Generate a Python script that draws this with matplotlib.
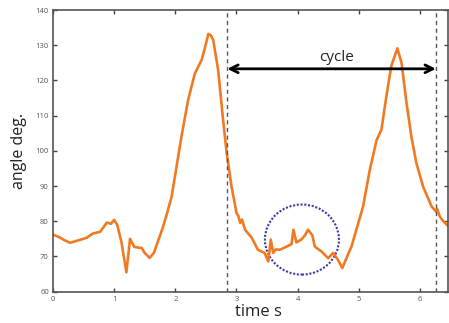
import matplotlib
matplotlib.use('Agg')
import matplotlib.pyplot as plt
from matplotlib.patches import Ellipse

# values
temps = [0, 0.1, 0.2, 0.28, 0.4, 0.55, 0.65, 0.77, 0.88, 0.95, 1.0, 1.05, 1.12,
         1.2, 1.26, 1.33, 1.45, 1.5, 1.58, 1.65, 1.72, 1.8, 1.86, 1.94, 2.02,
         2.1, 2.21, 2.32, 2.43, 2.48, 2.54, 2.58, 2.62, 2.70, 2.78, 2.84, 2.92,
         3.0, 3.03, 3.06, 3.09, 3.14, 3.25, 3.35, 3.46, 3.52, 3.56, 3.60, 3.64,
         3.71, 3.82, 3.90, 3.93, 3.98, 4.06, 4.12, 4.17, 4.24, 4.28, 4.39, 4.5,
         4.58, 4.66, 4.73, 4.8, 4.88, 4.96, 5.07, 5.18, 5.29, 5.37, 5.45, 5.53,
         5.63, 5.70, 5.78, 5.86, 5.94, 6.05, 6.19, 6.26, 6.28, 6.32, 6.38, 6.47]
angle = [76.2, 75.5, 74.5, 73.9, 74.5, 75.3, 76.5, 77, 79.6, 79.3, 80.4, 79, 74,
         65.5, 75, 72.7, 72.4, 71, 69.6, 71, 74.5, 78.4, 82, 87, 95.5,
         104, 114.5, 122, 125.8, 129, 133.2, 132.8, 131.5, 123, 109, 99.4, 89.8,
         82.4, 81.5, 79.5, 80.5, 77.6, 75.3, 71.9, 71, 68.6, 74.8, 71, 72,
         71.9, 72.8, 73.5, 77.6, 74, 74.8, 76, 77.6, 76, 72.8, 71.4, 69.5,
         71, 69, 66.7, 69.6, 72.8, 77.6, 84.2, 94.6, 103, 106, 115.4, 124,
         129.1, 124.9, 113.6, 104, 96.6, 89.9, 84.2, 82.8, 83.5, 81.5, 80, 78.5]

cycle_debut = 2.85
cycle_fin = 6.26
fleche_y = 123.3
cercle_centre = (4.07, 74.8)
cercle_larg = 1.21
cercle_haut = 19.9

plt.rcParams['font.family'] = ['Open Sans', 'DejaVu Sans']

fig = plt.figure(figsize=(4.49, 3.23), dpi=100)
ax = fig.add_axes([0.118, 0.097, 0.880, 0.872])

ax.plot(temps, angle, color='#F07A22', lw=1.9)

ax.axvline(cycle_debut, color='#555555', ls=(0, (3, 2.5)), lw=1)
ax.axvline(cycle_fin, color='#555555', ls=(0, (3, 2.5)), lw=1)

ax.annotate('', xy=(cycle_debut, fleche_y), xytext=(cycle_fin, fleche_y),
            arrowprops=dict(arrowstyle='<->', color='black', lw=2,
                            mutation_scale=14, shrinkA=0, shrinkB=0))
ax.text((cycle_debut + cycle_fin) / 2 + 0.08, fleche_y + 1.2, 'cycle',
        ha='center', va='bottom', fontsize=11, color='#222222')

ell = Ellipse(cercle_centre, cercle_larg, cercle_haut, fill=False,
              edgecolor='#3a3aa8', ls=(0, (1, 0.8)), lw=1.5)
ax.add_patch(ell)

ax.set_xlim(0, 6.46)
ax.set_ylim(60, 140)
ax.set_xticks([0, 1, 2, 3, 4, 5, 6])
ax.set_yticks(range(60, 141, 10))
ax.tick_params(direction='in', top=True, right=True, length=3, width=1,
               labelsize=5.5, labelcolor='#555555', color='#444444', pad=3)
for s in ax.spines.values():
  s.set_color('#555555')
  s.set_linewidth(1.2)

ax.set_xlabel('time s', fontsize=12, labelpad=0, color='#222222')
ax.xaxis.set_label_coords(0.52, -0.045)
ax.set_ylabel('angle deg.', fontsize=11.5, color='#222222', labelpad=6)

fig.savefig('out.png', dpi=100)
